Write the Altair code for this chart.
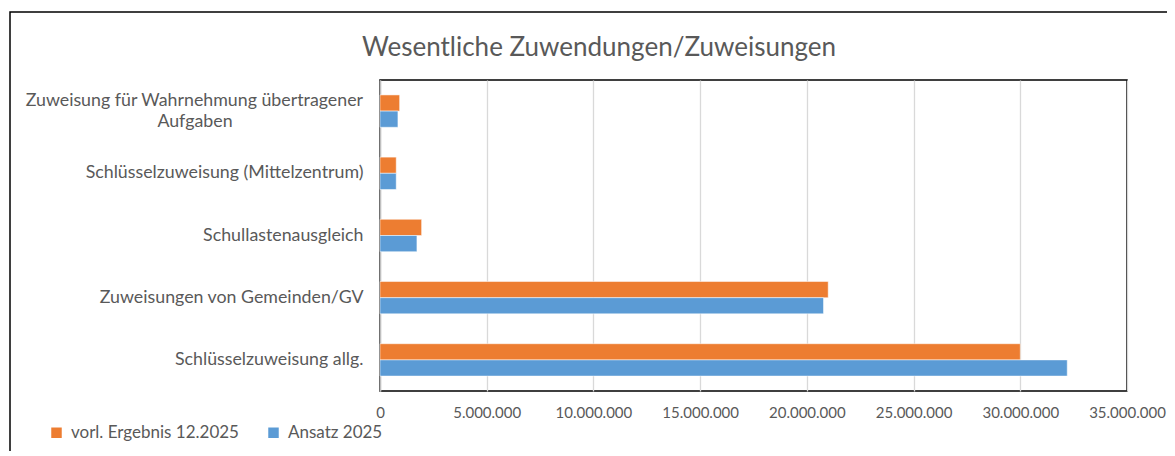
import altair as alt
import pandas as pd

categories = [
    "Zuweisung für Wahrnehmung übertragener Aufgaben",
    "Schlüsselzuweisung (Mittelzentrum)",
    "Schullastenausgleich",
    "Zuweisungen von Gemeinden/GV",
    "Schlüsselzuweisung allg.",
]
series = ["vorl. Ergebnis 12.2025", "Ansatz 2025"]
ergebnis = [920000, 760000, 1950000, 21000000, 30000000]
ansatz = [840000, 760000, 1730000, 20780000, 32200000]
x_ticks = [0, 5000000, 10000000, 15000000, 20000000, 25000000, 30000000, 35000000]
colors = ["#ED7D31", "#5B9BD5"]
title_text = "Wesentliche Zuwendungen/Zuweisungen"
wrapped_lines = ["Zuweisung für Wahrnehmung übertragener", "Aufgaben"]

rows = []
for c, e, a in zip(categories, ergebnis, ansatz):
    rows.append({"Kategorie": c, "Reihe": series[0], "Wert": e})
    rows.append({"Kategorie": c, "Reihe": series[1], "Wert": a})
df = pd.DataFrame(rows)

FONT = "Lato"
GREY = "#595959"
YFS = 17.8

label_expr = (
    "datum.label == 'Zuweisung für Wahrnehmung übertragener Aufgaben' ? '' : datum.label"
)

bars = alt.Chart(df).mark_bar(stroke="white", strokeWidth=0.5).encode(
    y=alt.Y(
        "Kategorie:N",
        sort=categories,
        scale=alt.Scale(paddingInner=0.48, paddingOuter=0.24),
        axis=alt.Axis(
            title=None,
            ticks=False,
            labelFont=FONT,
            labelFontSize=YFS,
            labelColor=GREY,
            labelPadding=17,
            labelLimit=400,
            labelExpr=label_expr,
            domainColor="#bfbfbf",
            domainWidth=1.5,
            grid=False,
        ),
    ),
    yOffset=alt.YOffset("Reihe:N", sort=series),
    x=alt.X(
        "Wert:Q",
        scale=alt.Scale(domain=[0, 35000000], nice=False),
        axis=alt.Axis(
            title=None,
            values=x_ticks,
            ticks=False,
            domain=False,
            labelOverlap=False,
            labelFlush=False,
            labelFont=FONT,
            labelFontSize=15,
            labelColor=GREY,
            labelPadding=14,
            labelExpr="replace(format(datum.value, ','), regexp(',', 'g'), '.')",
            gridColor="#d9d9d9",
            gridWidth=1.3,
        ),
    ),
    color=alt.Color(
        "Reihe:N",
        sort=series,
        scale=alt.Scale(domain=series, range=colors),
        legend=alt.Legend(
            title=None,
            orient="none",
            legendX=-332,
            legendY=344,
            direction="horizontal",
            symbolType="square",
            symbolSize=110,
            symbolStrokeWidth=0,
            labelFont=FONT,
            labelFontSize=17,
            labelColor=GREY,
            labelLimit=300,
            columnPadding=26,
            labelOffset=6,
        ),
    ),
)

line1 = alt.Chart(
    pd.DataFrame({"Kategorie": [categories[0]], "Text": [wrapped_lines[0]]})
).mark_text(
    font=FONT, fontSize=YFS, color=GREY, align="right", baseline="middle", dy=-10
).encode(
    y=alt.Y("Kategorie:N", sort=categories),
    x=alt.value(-17),
    text="Text:N",
)

line2 = alt.Chart(
    pd.DataFrame({"Kategorie": [categories[0]], "Text": [wrapped_lines[1]]})
).mark_text(
    font=FONT, fontSize=YFS, color=GREY, align="center", baseline="middle", dy=11
).encode(
    y=alt.Y("Kategorie:N", sort=categories),
    x=alt.value(-185),
    text="Text:N",
)

title = alt.Chart(pd.DataFrame({"Text": [title_text]})).mark_text(
    font=FONT, fontSize=26, color=GREY, align="center", baseline="middle"
).encode(
    x=alt.value(219),
    y=alt.value(-32),
    text="Text:N",
)

frame = alt.Chart(pd.DataFrame({"k": [0]})).mark_rect(
    filled=False, stroke="black", strokeWidth=1.5
).encode(
    x=alt.value(-370), x2=alt.value(820), y=alt.value(-68), y2=alt.value(420)
)

chart = (
    alt.layer(frame, bars, line1, line2, title)
    .properties(
        width=747,
        height=311,
        autosize=alt.AutoSizeParams(type="none"),
        padding={"left": 372, "top": 72, "right": 40, "bottom": 60},
    )
    .configure_view(stroke="black", strokeWidth=1.5)
)

chart.save("out.html", embed_options={"renderer": "svg", "actions": False})
